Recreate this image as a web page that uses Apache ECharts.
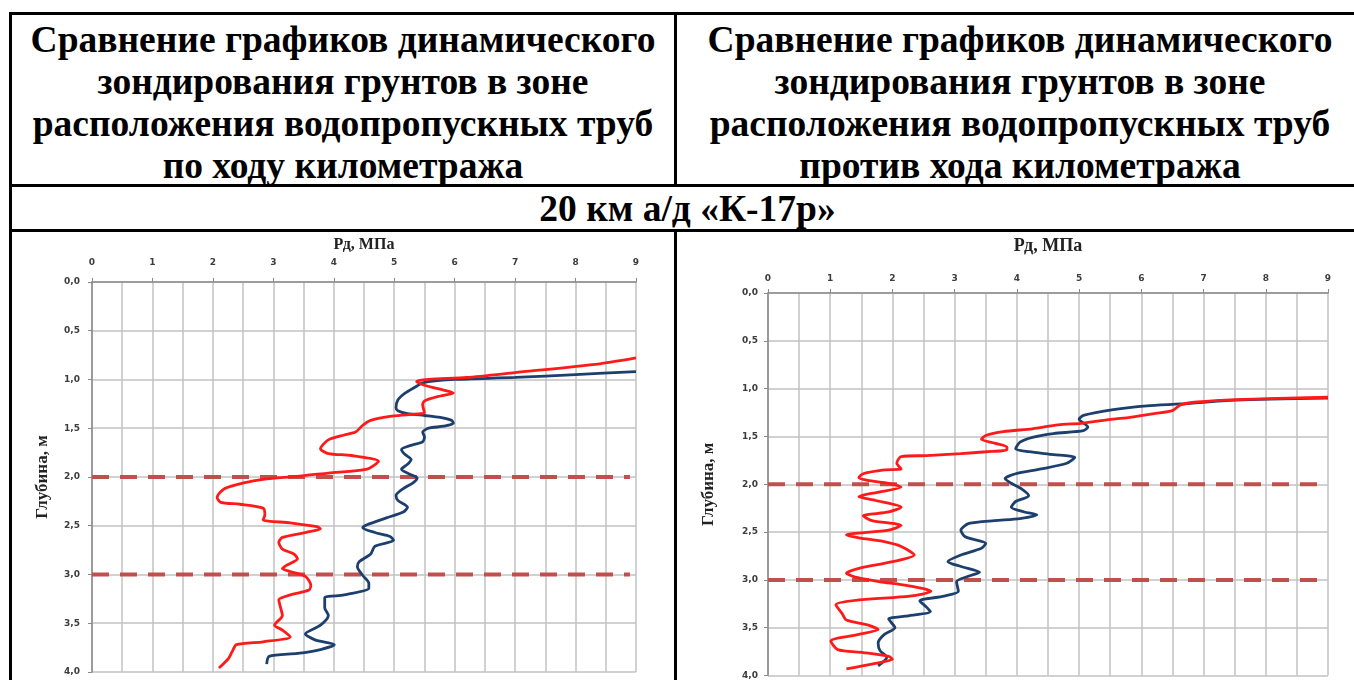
<!DOCTYPE html>
<html lang="ru">
<head>
<meta charset="utf-8">
<title>Динамическое зондирование грунтов</title>
<script src="https://cdn.jsdelivr.net/npm/echarts@6/dist/echarts.min.js"></script>
<style>
  html, body { margin: 0; padding: 0; background: #fff; overflow: hidden; }
  body { width: 1354px; height: 680px; position: relative; }
  .rule { position: absolute; background: #000; }
  .head {
    position: absolute;
    font-family: "Liberation Serif", "Times New Roman", serif;
    font-weight: bold;
    font-size: 37.5px;
    line-height: 42px;
    text-align: center;
    color: #000;
    white-space: nowrap;
  }
  #chart { position: absolute; left: 0; top: 232px; width: 1354px; height: 448px; }
</style>
</head>
<body>
<!-- table rules -->
<div class="rule" style="left:9px;top:12px;width:1345px;height:3px"></div>
<div class="rule" style="left:9px;top:12px;width:3px;height:668px"></div>
<div class="rule" style="left:674px;top:12px;width:3px;height:174px"></div>
<div class="rule" style="left:9px;top:184px;width:1345px;height:3px"></div>
<div class="rule" style="left:9px;top:229px;width:1345px;height:3px"></div>
<div class="rule" style="left:674px;top:229px;width:3px;height:451px"></div>

<div class="head" style="left:12px;width:662px;top:19px">Сравнение графиков динамического<br>зондирования грунтов в зоне<br>расположения водопропускных труб<br>по ходу километража</div>
<div class="head" style="left:677px;width:686px;top:19px">Сравнение графиков динамического<br>зондирования грунтов в зоне<br>расположения водопропускных труб<br>против хода километража</div>
<div class="head" style="left:12px;width:1351px;top:188px">20 км а/д «К-17р»</div>

<div id="chart"></div>
<script>
// Rд (MPa) vs depth (m) pairs, read top to bottom
const leftBlue = [[9.0,0.92],[8.0,0.95],[7.0,0.98],[6.0,1.0],[5.6,1.02],[5.45,1.04],[5.37,1.07],[5.18,1.14],[5.06,1.21],[5.03,1.29],[5.06,1.32],[5.22,1.35],[5.5,1.37],[5.76,1.39],[5.95,1.42],[5.98,1.45],[5.82,1.48],[5.57,1.5],[5.47,1.54],[5.5,1.59],[5.47,1.64],[5.31,1.67],[5.12,1.72],[5.18,1.77],[5.28,1.82],[5.22,1.87],[5.12,1.92],[5.25,1.97],[5.38,2.01],[5.31,2.06],[5.15,2.12],[5.03,2.19],[5.06,2.24],[5.22,2.31],[5.15,2.36],[4.87,2.42],[4.55,2.49],[4.48,2.52],[4.68,2.57],[4.93,2.61],[4.99,2.65],[4.68,2.71],[4.61,2.79],[4.42,2.87],[4.39,2.92],[4.48,3.01],[4.58,3.09],[4.58,3.14],[4.17,3.21],[3.85,3.24],[3.85,3.34],[3.91,3.42],[3.78,3.52],[3.53,3.61],[3.69,3.67],[4.01,3.72],[3.78,3.77],[3.4,3.81],[2.93,3.84],[2.89,3.92]];
const leftRed = [[9.0,0.78],[8.4,0.84],[7.0,0.93],[6.2,0.98],[5.57,1.0],[5.37,1.02],[5.5,1.06],[5.82,1.11],[5.98,1.14],[5.76,1.17],[5.5,1.22],[5.47,1.26],[5.5,1.34],[5.25,1.36],[4.93,1.38],[4.61,1.42],[4.48,1.47],[4.36,1.54],[4.17,1.57],[3.91,1.62],[3.78,1.71],[3.91,1.76],[4.29,1.78],[4.74,1.84],[4.55,1.92],[3.91,1.96],[3.47,1.99],[2.89,2.02],[2.51,2.06],[2.19,2.12],[2.07,2.21],[2.13,2.26],[2.45,2.28],[2.83,2.32],[2.86,2.39],[2.83,2.44],[3.28,2.47],[3.72,2.51],[3.78,2.53],[3.53,2.57],[3.15,2.62],[3.09,2.67],[3.15,2.74],[3.34,2.79],[3.4,2.84],[3.21,2.91],[3.15,2.94],[3.28,2.97],[3.53,3.02],[3.62,3.11],[3.59,3.16],[3.28,3.21],[3.09,3.26],[3.12,3.34],[3.15,3.42],[3.02,3.52],[3.15,3.57],[3.28,3.64],[2.83,3.69],[2.39,3.72],[2.32,3.79],[2.26,3.86],[2.1,3.96]];
const rightRed = [[9.0,1.09],[7.52,1.115],[6.9,1.14],[6.63,1.17],[6.5,1.23],[6.23,1.26],[5.82,1.3],[5.54,1.32],[5.07,1.36],[4.66,1.38],[4.25,1.42],[3.78,1.45],[3.5,1.49],[3.43,1.53],[3.64,1.57],[3.84,1.61],[3.84,1.64],[3.5,1.66],[3.1,1.68],[2.55,1.7],[2.14,1.71],[2.07,1.78],[2.14,1.84],[1.87,1.85],[1.53,1.89],[1.46,1.93],[1.6,1.96],[1.94,1.99],[2.14,2.03],[1.8,2.08],[1.46,2.13],[1.73,2.17],[2.14,2.24],[1.94,2.29],[1.53,2.33],[1.67,2.38],[2.14,2.43],[1.94,2.48],[1.26,2.53],[1.46,2.56],[1.87,2.6],[2.14,2.65],[2.35,2.74],[2.0,2.81],[1.46,2.88],[1.26,2.93],[1.46,2.98],[1.8,3.02],[2.14,3.05],[2.48,3.09],[2.62,3.12],[2.28,3.17],[1.46,3.21],[1.09,3.26],[1.19,3.35],[1.26,3.42],[1.6,3.47],[1.77,3.52],[1.46,3.57],[1.01,3.64],[1.12,3.73],[1.53,3.76],[1.94,3.8],[2.0,3.83],[1.67,3.88],[1.26,3.93]];
const rightBlue = [[9.0,1.1],[7.52,1.12],[6.63,1.16],[6.09,1.18],[5.55,1.22],[5.07,1.28],[5.0,1.32],[5.14,1.4],[5.07,1.44],[4.59,1.47],[4.25,1.51],[4.05,1.56],[3.98,1.63],[4.19,1.66],[4.59,1.69],[4.93,1.72],[4.8,1.78],[4.39,1.84],[3.98,1.89],[3.81,1.94],[3.91,1.99],[4.08,2.05],[4.19,2.12],[3.98,2.18],[3.91,2.24],[4.12,2.29],[4.32,2.32],[4.05,2.36],[3.64,2.38],[3.23,2.41],[3.1,2.48],[3.17,2.55],[3.5,2.62],[3.43,2.67],[3.1,2.74],[2.89,2.81],[3.1,2.86],[3.4,2.92],[3.23,2.96],[3.03,3.02],[3.06,3.12],[2.83,3.17],[2.44,3.22],[2.54,3.28],[2.61,3.33],[2.21,3.38],[1.94,3.41],[2.04,3.5],[1.87,3.57],[1.77,3.66],[1.8,3.74],[1.91,3.81],[1.77,3.9]];

// layer boundaries (m) and the Rд span of the boundary lines
const boundaryDepths = [2.0, 3.0];
const leftBoundarySpan = [0, 8.9];
const rightBoundarySpan = [0, 8.85];

const xName = 'Рд, МПа';
const yName = 'Глубина, м';

const tickFont = { fontFamily: 'DejaVu Sans, Verdana, sans-serif', fontWeight: 'bold', fontSize: 9, color: '#3c3c3c' };
const gridLine = { lineStyle: { color: '#c2c2c2', width: 1.5 } };
const titleFont = { fontFamily: 'Liberation Serif, Times New Roman, serif', fontWeight: 'bold', color: '#222' };

function xAxisFor(gi, nameGap, labelMargin, nameSize) {
  return {
    gridIndex: gi, type: 'value', position: 'top', min: 0, max: 9, interval: 1,
    name: xName, nameLocation: 'middle', nameGap: nameGap,
    nameTextStyle: Object.assign({ fontSize: nameSize }, titleFont),
    axisLine: { show: true, lineStyle: { color: '#8a8a8a', width: 1.5 } },
    axisTick: { show: true, length: 4, lineStyle: { color: '#8a8a8a' } },
    axisLabel: Object.assign({ margin: labelMargin }, tickFont),
    splitLine: Object.assign({ show: true }, gridLine),
    minorTick: { show: false, splitNumber: 2 },
    minorSplitLine: Object.assign({ show: true }, gridLine)
  };
}
function yAxisFor(gi, nameGap, labelMargin, nameSize) {
  return {
    gridIndex: gi, type: 'value', inverse: true, min: 0, max: 4, interval: 0.5,
    name: yName, nameLocation: 'middle', nameGap: nameGap, nameRotate: 90,
    nameTextStyle: Object.assign({ fontSize: nameSize }, titleFont),
    axisLine: { show: true, lineStyle: { color: '#8a8a8a', width: 1.5 } },
    axisTick: { show: true, length: 4, lineStyle: { color: '#8a8a8a' } },
    axisLabel: Object.assign({ margin: labelMargin, formatter: v => v.toFixed(1).replace('.', ',') }, tickFont),
    splitLine: Object.assign({ show: true }, gridLine)
  };
}
function curve(gi, data, color) {
  return {
    type: 'line', xAxisIndex: gi, yAxisIndex: gi, data: data,
    showSymbol: false, smooth: 0.25, clip: true,
    lineStyle: { color: color, width: 2.8 }, z: 3
  };
}
function boundaries(gi, span) {
  return boundaryDepths.map(d => ({
    type: 'line', xAxisIndex: gi, yAxisIndex: gi,
    data: [[span[0], d], [span[1], d]],
    showSymbol: false, clip: false,
    lineStyle: { color: '#c0504d', width: 4, type: [17, 11] }, z: 2
  }));
}

const chart = echarts.init(document.getElementById('chart'), null, { renderer: 'canvas' });
chart.setOption({
  animation: false,
  grid: [
    { left: 92, top: 37, width: 544, height: 403 },
    { left: 768, top: 57, width: 560, height: 387 }
  ],
  xAxis: [xAxisFor(0, 24, 15, 16), xAxisFor(1, 38, 10, 18)],
  yAxis: [yAxisFor(0, 41, 12, 17), yAxisFor(1, 51, 10, 17)],
  series: [
    ...boundaries(0, leftBoundarySpan),
    curve(0, leftBlue, '#1c3f6e'),
    curve(0, leftRed, '#ff1a1a'),
    ...boundaries(1, rightBoundarySpan),
    curve(1, rightBlue, '#1c3f6e'),
    curve(1, rightRed, '#ff1a1a')
  ]
});
</script>
</body>
</html>
